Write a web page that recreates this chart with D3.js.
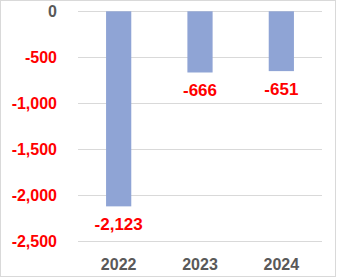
<!DOCTYPE html>
<html>
<head>
<meta charset="utf-8">
<script src="https://cdn.jsdelivr.net/npm/d3@7"></script>
<style>
  body { margin: 0; background: #fff; }
  svg text { font-family: "Liberation Sans", Arial, sans-serif; font-weight: bold; }
</style>
</head>
<body>
<div id="chart"></div>
<script>
// data
const years = ["2022", "2023", "2024"];
const values = [-2123, -666, -651];
const yTicks = [0, -500, -1000, -1500, -2000, -2500];

const width = 337, height = 278;
const margin = { top: 11.3, right: 15, bottom: 37, left: 78 };

const svg = d3.select("#chart")
  .append("svg")
  .attr("width", width)
  .attr("height", height);

// chart frame
svg.append("rect")
  .attr("x", 0.5).attr("y", 0.5)
  .attr("width", 335).attr("height", 276)
  .attr("fill", "#fff")
  .attr("stroke", "#d9d9d9");

const x = d3.scaleBand()
  .domain(years)
  .range([margin.left, width - margin.right])
  .paddingInner(0.69)
  .paddingOuter(0.345);

const y = d3.scaleLinear()
  .domain([-2500, 0])
  .range([241, margin.top]);

// plain hyphen like the original, not the unicode minus
const fmt = d => d3.format(",")(d).replace("\u2212", "-");

// gridlines
svg.append("g")
  .selectAll("line")
  .data(yTicks)
  .enter()
  .append("line")
  .attr("x1", margin.left)
  .attr("x2", width - margin.right)
  .attr("y1", d => Math.round(y(d)) + 0.5)
  .attr("y2", d => Math.round(y(d)) + 0.5)
  .attr("stroke", "#d9d9d9");

// y axis labels
const yAxis = svg.append("g")
  .attr("transform", "translate(" + (margin.left - 21) + ",0)")
  .call(d3.axisLeft(y).tickValues(yTicks).tickSize(0).tickPadding(0).tickFormat(fmt));
yAxis.select(".domain").remove();
yAxis.selectAll("text")
  .attr("font-size", 16)
  .attr("font-family", null)
  .attr("fill", d => d < 0 ? "#ff0000" : "#595959");

// bars
svg.append("g")
  .selectAll("rect")
  .data(values)
  .enter()
  .append("rect")
  .attr("x", (d, i) => x(years[i]))
  .attr("y", y(0))
  .attr("width", x.bandwidth())
  .attr("height", d => y(d) - y(0))
  .attr("fill", "#8fa4d5");

// value labels
svg.append("g")
  .selectAll("text")
  .data(values)
  .enter()
  .append("text")
  .attr("x", (d, i) => x(years[i]) + x.bandwidth() / 2)
  .attr("y", d => y(d) + 24)
  .attr("text-anchor", "middle")
  .attr("font-size", 17)
  .attr("fill", "#ff0000")
  .text(d => fmt(d));

// x axis labels
const xAxis = svg.append("g")
  .attr("transform", "translate(0,259)")
  .call(d3.axisBottom(x).tickSize(0).tickPadding(0));
xAxis.select(".domain").remove();
xAxis.selectAll("text")
  .attr("font-size", 16)
  .attr("font-family", null)
  .attr("fill", "#595959");
</script>
</body>
</html>
